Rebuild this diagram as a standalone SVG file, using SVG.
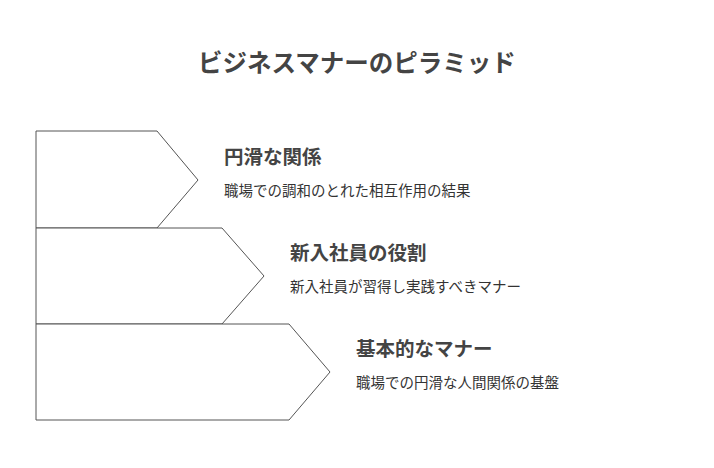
<svg xmlns="http://www.w3.org/2000/svg" width="714" height="468" viewBox="0 0 714 468">
<style>
.s{fill:#fff;stroke:#555;stroke-width:1}
.t{font-family:"Noto Sans CJK JP",sans-serif;fill:#444}
.h{font-size:19.5px;font-weight:bold}
.d{font-size:14.5px;fill:#333}
</style>
<rect width="714" height="468" fill="#fff"/>
<text class="t" x="357" y="72" text-anchor="middle" font-size="24.5" font-weight="bold">ビジネスマナーのピラミッド</text>
<g id="connectors"></g>
<g id="n1"><polygon class="s" points="36,131 157,131 198,180 157,228 36,228"/>
<text class="t h" x="224" y="164">円滑な関係</text>
<text class="t d" x="224" y="196">職場での調和のとれた相互作用の結果</text></g>
<g id="n2"><polygon class="s" points="36,228 222,228 264,276 222,324 36,324"/>
<text class="t h" x="290" y="260">新入社員の役割</text>
<text class="t d" x="290" y="292">新入社員が習得し実践すべきマナー</text></g>
<g id="n3"><polygon class="s" points="36,324 289,324 330,372 289,420 36,420"/>
<text class="t h" x="356" y="356">基本的なマナー</text>
<text class="t d" x="356" y="388">職場での円滑な人間関係の基盤</text></g>
</svg>
